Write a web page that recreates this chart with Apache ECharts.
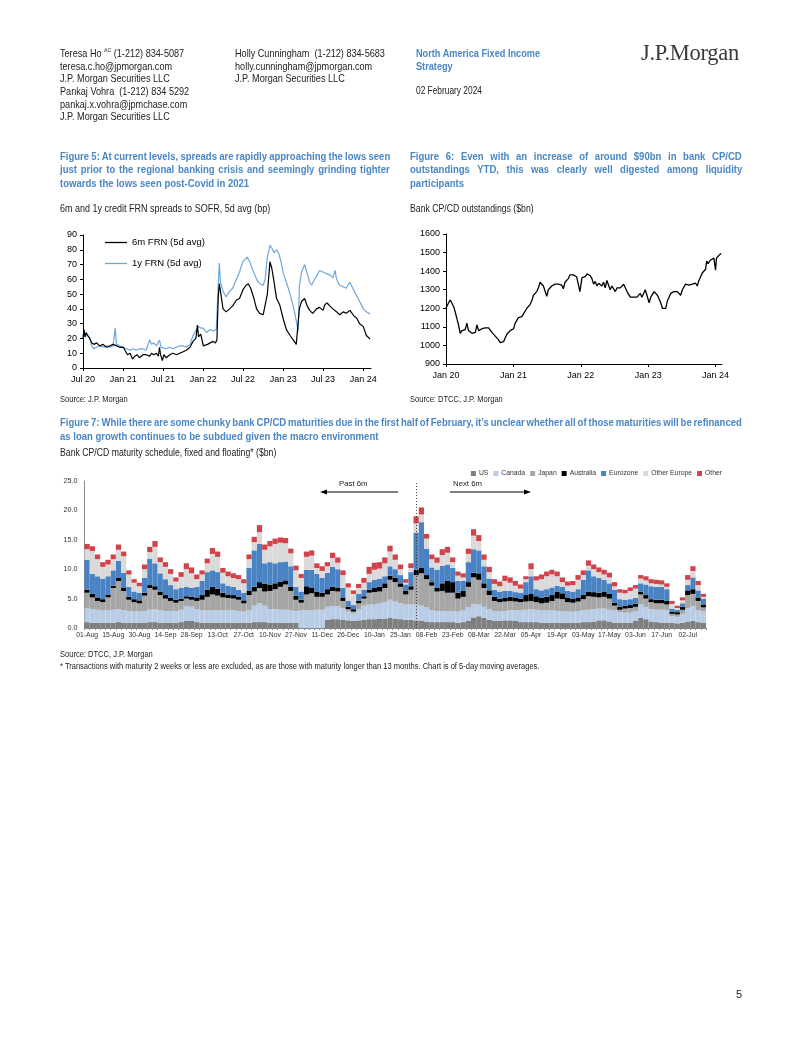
<!DOCTYPE html>
<html><head><meta charset="utf-8">
<script src="https://cdn.jsdelivr.net/npm/echarts@6/dist/echarts.min.js"></script>
<style>
html,body{margin:0;padding:0;background:#fff;}
body{width:802px;height:1037px;position:relative;overflow:hidden;font-family:'Liberation Sans',Arial,sans-serif;color:#222;}
#c{position:absolute;left:0;top:0;width:802px;height:1037px;}
.t{position:absolute;white-space:nowrap;transform:scaleX(0.82);transform-origin:0 0;}
.hd{font-size:10.6px;line-height:12.5px;transform:scaleX(0.86);}
.ttl{font-weight:bold;color:#4a87c5;font-size:10.6px;line-height:13.3px;transform:scaleX(0.9);}
.j{display:inline-block;white-space:nowrap;}
.sub{font-size:10.6px;line-height:12px;}
.src{font-size:9.2px;line-height:11px;}
</style></head>
<body>
<div id="c"></div>
<div class="t hd" style="left:60px;top:47px">Teresa Ho <sup style="font-size:6px;line-height:0">AC</sup> (1-212) 834-5087<br>teresa.c.ho@jpmorgan.com<br>J.P. Morgan Securities LLC</div>
<div class="t hd" style="left:60px;top:85px">Pankaj Vohra&nbsp; (1-212) 834 5292<br>pankaj.x.vohra@jpmchase.com<br>J.P. Morgan Securities LLC</div>
<div class="t hd" style="left:235px;top:47px">Holly Cunningham&nbsp; (1-212) 834-5683<br>holly.cunningham@jpmorgan.com<br>J.P. Morgan Securities LLC</div>
<div class="t hd" style="left:416px;top:47px;color:#4a87c5;font-weight:bold;font-size:11.2px;transform:scaleX(0.82)">North America Fixed Income<br>Strategy</div>
<div class="t" style="left:416px;top:85px;font-size:10.2px;line-height:12.5px">02 February 2024</div>
<div style="position:absolute;left:641px;top:40px;font-family:'Liberation Serif','Times New Roman',serif;font-size:22.5px;color:#3a3a3a;letter-spacing:-0.3px;white-space:nowrap">J.P.Morgan</div>

<div class="t ttl" style="left:60px;top:150px">
<div><span class="j" data-w="330">Figure 5: At current levels, spreads are rapidly approaching the lows seen</span></div>
<div><span class="j" data-w="330">just prior to the regional banking crisis and seemingly grinding tighter</span></div>
<div>towards the lows seen post-Covid in 2021</div>
</div>
<div class="t sub" style="left:60px;top:202px;transform:scaleX(0.85)">6m and 1y credit FRN spreads to SOFR, 5d avg (bp)</div>
<div class="t src" style="left:60px;top:394px">Source: J.P. Morgan</div>

<div class="t ttl" style="left:410px;top:150px">
<div><span class="j" data-w="332">Figure 6: Even with an increase of around $90bn in bank CP/CD</span></div>
<div><span class="j" data-w="332">outstandings YTD, this was clearly well digested among liquidity</span></div>
<div>participants</div>
</div>
<div class="t sub" style="left:410px;top:202px">Bank CP/CD outstandings ($bn)</div>
<div class="t src" style="left:410px;top:394px">Source: DTCC, J.P. Morgan</div>

<div class="t ttl" style="left:60px;top:415px;line-height:14px">
<div><span class="j" data-w="682">Figure 7: While there are some chunky bank CP/CD maturities due in the first half of February, it’s unclear whether all of those maturities will be refinanced</span></div>
<div>as loan growth continues to be subdued given the macro environment</div>
</div>
<div class="t sub" style="left:60px;top:446px">Bank CP/CD maturity schedule, fixed and floating* ($bn)</div>
<div class="t src" style="left:60px;top:649px">Source: DTCC, J.P. Morgan</div>
<div class="t src" style="left:60px;top:661px">* Transactions with maturity 2 weeks or less are excluded, as are those with maturity longer than 13 months. Chart is of 5-day moving averages.</div>
<div class="t" style="left:736px;top:988px;font-size:11px;transform:none">5</div>

<script>
// ---------- Figure 5 data ----------
const fig5Ticks = ['Jul 20','Jan 21','Jul 21','Jan 22','Jul 22','Jan 23','Jul 23','Jan 24'];
const fig5Names = ['6m FRN (5d avg)','1y FRN (5d avg)'];
const fig5SixDates = ['2020-07-01','2020-07-06','2020-07-10','2020-07-15','2020-07-22','2020-08-01','2020-08-10','2020-08-20','2020-09-01','2020-09-15','2020-10-01','2020-10-15','2020-11-01','2020-11-15','2020-12-01','2020-12-15',
'2021-01-01','2021-01-10','2021-01-20','2021-02-01','2021-02-12','2021-02-22','2021-03-05','2021-03-15','2021-04-01','2021-04-15','2021-05-01','2021-05-10','2021-05-20','2021-06-01','2021-06-10','2021-06-15','2021-06-20','2021-06-28','2021-07-05','2021-07-15','2021-08-01','2021-08-15','2021-09-01','2021-09-15','2021-10-01','2021-10-15','2021-11-01','2021-11-15','2021-11-28','2021-12-05','2021-12-10','2021-12-20',
'2022-01-01','2022-01-10','2022-01-20','2022-02-01','2022-02-15','2022-02-25','2022-03-04','2022-03-10','2022-03-15','2022-03-20','2022-04-01','2022-04-15','2022-05-01','2022-05-15','2022-06-01','2022-06-15','2022-07-01','2022-07-15','2022-07-25','2022-08-05','2022-08-20','2022-09-01','2022-09-15','2022-10-01','2022-10-10','2022-10-20','2022-11-01','2022-11-10','2022-11-20','2022-12-01','2022-12-15',
'2023-01-01','2023-01-15','2023-02-01','2023-02-15','2023-03-01','2023-03-10','2023-03-15','2023-03-25','2023-04-08','2023-04-20','2023-05-01','2023-05-15','2023-06-01','2023-06-15','2023-07-01','2023-07-10','2023-07-20','2023-08-01','2023-08-15','2023-09-01','2023-09-15','2023-10-01','2023-10-15','2023-11-01','2023-11-10','2023-11-20','2023-12-01','2023-12-15',
'2024-01-01','2024-01-15','2024-02-01'];
const fig5SixValues = [20,26,21,24,22,20,17,16,17,15,16,14,15,16,15,14,
14,13,9,10,6,8,9,7,9,9,8,10,9,10,8,14,9,5,9,7,9,10,9,10,11,12,14,18,20,29,21,23,
15,14,16,17,18,17,19,48,57,52,40,38,40,42,46,47,53,56,57,54,47,40,37,36,35,50,72,67,58,47,43,
33,26,22,19,16,15.5,40,45,47,42,39,37,40,41,39,43,44,42,40,38,36,38,37,39,38,35,34,30,
28,22,19.5];
const fig5OneDates = ['2020-07-01','2020-07-06','2020-07-12','2020-07-20','2020-08-01','2020-08-10','2020-08-20','2020-09-01','2020-09-15','2020-10-01','2020-10-15','2020-11-01','2020-11-15','2020-11-25','2020-12-01','2020-12-15',
'2021-01-01','2021-01-15','2021-02-01','2021-02-15','2021-03-01','2021-03-15','2021-04-01','2021-04-15','2021-05-01','2021-05-10','2021-05-20','2021-06-01','2021-06-15','2021-06-22','2021-07-01','2021-07-15','2021-08-01','2021-08-15','2021-09-01','2021-09-15','2021-10-01','2021-10-15','2021-11-01','2021-11-15','2021-12-01','2021-12-10','2021-12-20',
'2022-01-01','2022-01-15','2022-02-01','2022-02-15','2022-03-01','2022-03-05','2022-03-12','2022-03-15','2022-03-20','2022-04-01','2022-04-15','2022-05-01','2022-05-15','2022-06-01','2022-06-15','2022-07-01','2022-07-20','2022-08-01','2022-08-15','2022-09-01','2022-09-15','2022-10-01','2022-10-10','2022-10-20','2022-11-01','2022-11-10','2022-11-20','2022-12-01','2022-12-10','2022-12-20',
'2023-01-01','2023-01-15','2023-02-01','2023-02-15','2023-03-01','2023-03-10','2023-03-15','2023-03-25','2023-04-08','2023-04-20','2023-05-01','2023-05-10','2023-05-20','2023-06-01','2023-06-15','2023-07-01','2023-07-15','2023-08-01','2023-08-15','2023-08-25','2023-09-01','2023-09-15','2023-10-01','2023-10-15','2023-11-01','2023-11-10','2023-11-20','2023-12-01','2023-12-15',
'2024-01-01','2024-01-15','2024-02-01'];
const fig5OneValues = [22,25,21,23,20,15,13,14,15,14,15,14,15,27,16,15,
14,13,12,13,12,13,13,12,19,16,17,15,19,14,13,13,14,13,14,15,15,14,16,22,26,28,27,
27,24,26,25,26,26,62,71,58,52,48,52,54,60,65,72,75,72,66,60,57,56,60,75,83,81,78,80,78,73,
64,58,50,42,32,25,55,65,70,64,58,56,59,62,66,65,64,63,61,66,60,56,55,54,58,57,52,49,45,
40,38,36.5];

// ---------- Figure 6 data ----------
const fig6Ticks = ['Jan 20','Jan 21','Jan 22','Jan 23','Jan 24'];
const fig6Dates = ['2020-01-01','2020-01-15','2020-01-24','2020-02-02','2020-02-11','2020-02-20','2020-03-01','2020-03-09','2020-03-18','2020-03-27','2020-04-05','2020-04-14','2020-04-23','2020-05-02','2020-05-12','2020-05-21','2020-05-30','2020-06-08','2020-06-17','2020-06-26','2020-07-05','2020-07-14','2020-07-23','2020-08-01','2020-08-10','2020-08-19','2020-08-28','2020-09-06','2020-09-15','2020-09-24','2020-10-03','2020-10-12','2020-10-21','2020-10-30','2020-11-08','2020-11-17','2020-11-26','2020-12-05','2020-12-14','2020-12-23',
'2021-01-01','2021-01-10','2021-01-19','2021-01-28','2021-02-06','2021-02-15','2021-02-24','2021-03-05','2021-03-14','2021-03-23','2021-04-01','2021-04-10','2021-04-19','2021-04-28','2021-05-07','2021-05-16','2021-05-25','2021-06-03','2021-06-12','2021-06-21','2021-06-30','2021-07-09','2021-07-18','2021-07-27','2021-08-05','2021-08-14','2021-08-23','2021-09-01','2021-09-10','2021-09-19','2021-09-28','2021-10-07','2021-10-16','2021-10-25','2021-11-03','2021-11-12','2021-11-21','2021-11-30','2021-12-09','2021-12-18','2021-12-27',
'2022-01-07','2022-01-16','2022-01-25','2022-02-03','2022-02-12','2022-02-21','2022-03-02','2022-03-11','2022-03-20','2022-03-29','2022-04-07','2022-04-16','2022-04-25','2022-05-04','2022-05-13','2022-05-22','2022-05-31','2022-06-09','2022-06-18','2022-06-27','2022-07-07','2022-07-16','2022-07-25','2022-08-03','2022-08-12','2022-08-21','2022-08-30','2022-09-08','2022-09-17','2022-09-26','2022-10-05','2022-10-14','2022-10-23','2022-11-01','2022-11-10','2022-11-19','2022-11-28','2022-12-07','2022-12-16','2022-12-25',
'2023-01-06','2023-01-15','2023-01-24','2023-02-02','2023-02-11','2023-02-20','2023-03-01','2023-03-10','2023-03-19','2023-03-28','2023-04-06','2023-04-15','2023-04-24','2023-05-03','2023-05-12','2023-05-21','2023-05-30','2023-06-08','2023-06-17','2023-06-26','2023-07-05','2023-07-14','2023-07-23','2023-08-01','2023-08-10','2023-08-19','2023-08-28','2023-09-06','2023-09-15','2023-09-24','2023-10-03','2023-10-12','2023-10-21','2023-10-30','2023-11-08','2023-11-14','2023-11-21','2023-11-26','2023-12-05','2023-12-14','2023-12-23',
'2024-01-01','2024-01-06','2024-01-19','2024-02-01'];
const fig6Values = [1200,1230,1245,1235,1210,1180,1140,1110,1065,1080,1070,1085,1120,1080,1090,1065,1060,1070,1110,1080,1075,1090,1085,1095,1090,1095,1085,1070,1060,1050,1040,1030,1015,1005,1020,1040,1060,1070,1080,1085,
1090,1120,1135,1150,1160,1155,1170,1180,1200,1210,1220,1240,1270,1275,1290,1310,1340,1335,1320,1320,1265,1300,1310,1320,1325,1330,1320,1330,1335,1325,1305,1340,1345,1360,1380,1390,1380,1375,1370,1360,1290,
1365,1375,1370,1385,1385,1375,1360,1330,1345,1320,1335,1330,1320,1340,1310,1350,1340,1300,1320,1310,1290,1310,1300,1310,1320,1330,1310,1290,1280,1260,1250,1260,1270,1260,1270,1280,1260,1280,1300,1270,
1230,1260,1270,1290,1280,1270,1250,1230,1200,1190,1200,1240,1260,1280,1275,1290,1280,1290,1300,1270,1300,1310,1330,1340,1325,1335,1330,1340,1335,1320,1350,1370,1390,1400,1410,1455,1440,1430,1460,1460,1470,
1405,1470,1485,1495];

// ---------- Figure 7 data (2-business-day buckets, $bn) ----------
const fig7TickLabels = ['01-Aug','15-Aug','30-Aug','14-Sep','28-Sep','13-Oct','27-Oct','10-Nov','27-Nov','11-Dec','26-Dec','10-Jan','25-Jan','08-Feb','23-Feb','08-Mar','22-Mar','05-Apr','19-Apr','03-May','17-May','03-Jun','17-Jun','02-Jul'];
const fig7Names = ['US','Canada','Japan','Australia','Eurozone','Other Europe','Other'];
const fig7US = [1.0,0.9,0.9,0.9,0.9,0.9,1.0,0.9,0.9,0.9, 0.9,0.9,1.0,1.0,0.9,0.9,0.9,0.9,1.0,1.2, 1.2,1.0,0.9,0.9,0.9,0.9,0.9,0.9,0.9,0.9,
0.9,0.9,1.0,1.0,1.0,0.9,0.9,0.9,0.9,0.9, 0.9,0,0,0,0,0,1.4,1.5,1.5,1.4, 1.3,1.2,1.3,1.4,1.5,1.5,1.6,1.6,1.7,1.6,
1.5,1.4,1.4,1.3,1.2,1.1,1.0,1.0,1.0,1.0, 1.0,0.9,1.0,1.2,1.8,2.0,1.7,1.4,1.2,1.2, 1.3,1.3,1.2,1.0,1.0,1.0,1.0,0.9,0.9,0.9,
0.9,0.9,0.9,0.9,0.9,1.0,1.0,1.1,1.3,1.3, 1.1,0.9,0.9,0.9,0.9,1.2,1.7,1.5,1.1,1.0, 0.9,0.9,0.9,0.8,0.9,1.1,1.2,1.0,0.9];
const fig7Canada = [2.4,2.3,2.2,2.1,2.1,2.2,2.2,2.1,2.0,1.9, 1.9,2.0,2.1,2.2,2.1,2.0,2.0,2.0,2.1,2.5, 2.4,2.2,2.1,2.1,2.1,2.1,2.1,2.1,2.1,2.0,
1.9,2.1,2.8,3.2,2.8,2.3,2.3,2.2,2.2,2.1, 2.0,3.0,3.0,3.0,3.1,3.1,2.2,2.2,2.2,2.0, 1.5,1.3,1.9,2.4,2.5,2.5,2.6,2.8,3.1,2.9,
2.7,2.6,2.6,2.7,2.6,2.4,2.0,1.9,1.9,1.9, 1.9,1.9,2.0,2.3,2.3,2.0,1.9,1.8,1.7,1.6, 1.6,1.7,1.8,2.0,2.1,2.2,2.1,2.1,2.1,2.1,
2.0,2.0,1.9,1.9,2.0,2.0,2.1,2.1,2.0,2.0, 2.0,2.1,1.8,1.7,1.7,1.7,2.3,2.1,2.1,2.1, 2.2,2.1,1.1,1.1,1.5,2.3,2.5,2.0,1.9];
const fig7Japan = [2.6,2.0,1.5,1.4,2.2,3.7,4.8,3.3,1.9,1.6, 1.4,2.6,3.7,3.3,2.6,2.1,1.7,1.4,1.5,1.3, 1.2,1.4,1.8,2.3,2.7,2.5,2.2,2.1,2.0,1.9,
1.4,2.6,2.4,2.6,2.4,3.1,3.4,3.9,4.3,3.3, 1.9,1.3,2.7,2.9,2.2,2.2,2.1,2.6,2.5,1.2, 0.4,0.3,1.0,1.2,2.0,2.1,2.0,2.4,3.4,3.3,
2.8,1.7,2.5,5.0,5.5,4.8,4.2,3.3,3.4,3.1, 3.1,2.2,2.3,3.5,4.5,4.2,3.2,2.4,1.7,1.6, 1.6,1.6,1.5,1.4,1.4,1.4,1.3,1.2,1.3,1.6,
2.1,2.0,1.6,1.5,1.6,1.9,2.3,2.1,1.9,2.0, 1.9,0.8,0.4,0.7,0.8,0.7,1.7,1.4,1.2,1.1, 1.1,1.0,0.4,0.4,0.7,2.2,2.1,1.6,0.7];
const fig7Australia = [0.5,0.6,0.6,0.5,0.5,0.4,0.5,0.5,0.5,0.5, 0.5,0.5,0.5,0.6,0.6,0.6,0.5,0.5,0.4,0.4, 0.5,0.6,0.8,1.2,1.3,1.2,0.8,0.6,0.6,0.5,
0.5,0.7,0.8,1.0,1.3,1.1,1.0,0.9,0.7,0.7, 0.7,0.5,1.4,1.0,0.9,0.7,0.9,0.7,0.7,0.6, 0.4,0.4,0.4,0.4,0.5,0.7,0.8,0.8,0.7,0.7,
0.6,0.6,0.6,0.9,0.9,0.7,0.6,0.6,1.3,2.0, 1.8,1.0,1.0,0.8,0.8,1.1,0.8,0.8,0.7,0.6, 0.6,0.7,0.7,0.6,1.1,1.2,1.0,0.9,1.0,1.0,
1.2,1.0,0.8,0.7,0.7,0.7,0.8,0.8,0.8,0.9, 0.8,0.5,0.5,0.5,0.5,0.5,0.5,0.6,0.5,0.6, 0.6,0.6,0.4,0.4,0.5,0.8,0.8,0.6,0.5];
const fig7Eurozone = [5.1,3.4,3.6,3.5,3.1,2.6,2.9,2.6,1.7,1.3, 1.3,2.5,4.5,3.9,3.1,2.7,2.2,1.8,1.8,1.6, 1.5,1.8,2.4,3.0,2.8,2.8,1.6,1.5,1.4,1.2,
1.3,3.9,6.2,6.5,3.5,3.8,3.4,3.3,3.2,3.5, 1.5,1.4,2.8,3.0,3.0,2.5,2.8,3.4,3.1,1.6, 1.0,0.7,1.2,1.1,1.3,1.4,1.4,1.2,1.6,1.5,
1.4,1.1,2.4,6.3,7.8,4.5,2.5,3.1,3.0,2.8, 2.4,2.0,1.7,3.4,4.0,3.9,2.9,2.0,1.2,1.2, 1.2,1.0,0.9,1.0,2.2,3.0,1.2,1.3,1.3,1.3,
1.0,1.1,1.1,1.2,1.4,2.6,3.6,2.7,2.5,2.0, 1.8,2.2,1.3,1.0,1.0,1.0,1.4,1.8,2.2,2.2, 2.2,2.0,0.5,0.4,0.6,0.9,2.0,1.2,1.0];
const fig7OtherEurope = [1.8,3.9,2.9,2.0,2.0,1.9,1.9,2.8,2.1,1.5, 1.1,1.5,1.1,2.8,1.9,2.1,1.9,1.3,1.9,3.0, 2.5,1.3,1.1,1.5,2.8,2.6,1.8,1.6,1.5,1.8,
1.6,1.5,1.4,2.0,2.3,2.7,3.3,3.3,3.1,2.2, 2.8,2.3,2.2,2.4,1.0,1.2,1.1,1.5,1.1,2.2, 2.3,1.9,1.0,1.2,1.4,1.7,1.7,2.2,2.5,1.6,
1.0,0.3,0.7,1.6,1.3,1.7,1.4,1.2,1.8,2.0, 1.0,0.9,0.6,1.4,2.3,1.6,1.1,1.1,1.0,0.9, 1.7,1.4,1.1,0.7,0.5,1.2,1.5,1.9,2.2,2.2,
1.6,0.8,0.9,1.1,1.6,0.8,0.8,1.2,1.0,0.9, 1.0,0.6,1.1,1.1,1.4,1.6,0.8,0.7,0.5,0.5, 0.4,0.4,0.8,0.3,0.5,0.9,1.1,0.9,0.3];
const fig7Other = [0.9,0.8,0.8,0.8,0.8,0.8,0.9,0.8,0.7,0.6, 0.6,0.8,0.9,1.0,0.8,0.8,0.8,0.7,0.8,1.0, 1.0,0.8,0.7,0.8,1.0,0.9,0.8,0.8,0.8,0.7,
0.7,0.8,0.9,1.2,0.9,0.9,0.9,0.9,0.9,0.8, 0.8,0.7,0.9,0.9,0.8,0.8,0.7,0.9,0.9,0.8, 0.7,0.6,0.7,0.8,1.2,1.2,1.1,1.0,1.0,0.9,
0.8,0.6,0.8,1.2,1.2,0.8,0.8,0.9,1.0,1.0, 0.8,0.7,0.7,0.9,1.1,1.0,0.9,0.9,0.8,0.8, 0.9,0.9,0.8,0.7,0.5,1.0,0.7,0.8,0.8,0.8,
0.8,0.8,0.7,0.7,0.8,0.8,0.9,0.8,0.8,0.8, 0.8,0.7,0.6,0.6,0.6,0.6,0.6,0.7,0.7,0.7, 0.7,0.6,0.5,0.4,0.5,0.8,0.8,0.7,0.5];
const fig7Split = 63; // bucket where the "today" dotted line sits (02-Feb)

// ---------- helpers ----------
const MON = {Jan:0,Feb:1,Mar:2,Apr:3,May:4,Jun:5,Jul:6,Aug:7,Sep:8,Oct:9,Nov:10,Dec:11};
const ts = s => { const p = s.split('-'); return Date.UTC(+p[0], +p[1]-1, +p[2]); };
const tickTs = s => { const p = s.split(' '); return Date.UTC(2000 + +p[1], MON[p[0]], 1); };
const pairs = (d, v) => d.map((x, i) => [ts(x), v[i]]);
const tickFmt = ticks => { const m = {}; ticks.forEach(t => m[tickTs(t)] = t); return v => m[v] || ''; };

const FONT = "'Liberation Sans',Arial,sans-serif";
const AX = '#000';

const fig7Cats = fig7US.map((_, i) => String(i));
const fig7Colors = ['#7f7f7f','#b9cde6','#a6a6a6','#000000','#4a83c4','#dadada','#d2424b'];
const fig7Data = [fig7US, fig7Canada, fig7Japan, fig7Australia, fig7Eurozone, fig7OtherEurope, fig7Other];

const chart = echarts.init(document.getElementById('c'), null, {renderer: 'canvas', width: 802, height: 1037});

const timeX = (gi, minS, maxS, ticks) => ({
  gridIndex: gi, type: 'value', min: ts(minS), max: ts(maxS), scale: false,
  splitLine: {show: false},
  axisLine: {show: true, onZero: false, lineStyle: {color: AX, width: 1}},
  axisTick: {show: true, customValues: ticks.map(tickTs), length: 3, inside: false, lineStyle: {color: AX}},
  axisLabel: {show: true, customValues: ticks.map(tickTs), formatter: tickFmt(ticks), fontSize: 9, color: '#000', margin: 7, fontFamily: FONT, showMinLabel: true, showMaxLabel: true}
});
const valY = (gi, min, max, step) => ({
  gridIndex: gi, type: 'value', min: min, max: max, interval: step,
  splitLine: {show: false},
  axisLine: {show: true, lineStyle: {color: AX, width: 1}},
  axisTick: {show: true, length: 3, lineStyle: {color: AX}},
  axisLabel: {fontSize: 9, color: '#000', margin: 6, fontFamily: FONT, formatter: v => String(v)}
});

const series = [
  {name: fig5Names[0], type: 'line', xAxisIndex: 0, yAxisIndex: 0, data: pairs(fig5SixDates, fig5SixValues), symbol: 'none', lineStyle: {color: '#000', width: 1.2}, itemStyle: {color: '#000'}, z: 3},
  {name: fig5Names[1], type: 'line', xAxisIndex: 0, yAxisIndex: 0, data: pairs(fig5OneDates, fig5OneValues), symbol: 'none', lineStyle: {color: '#6ea7dc', width: 1.2}, itemStyle: {color: '#6ea7dc'}, z: 2},
  {name: 'Bank CP/CD outstandings', type: 'line', xAxisIndex: 1, yAxisIndex: 1, data: pairs(fig6Dates, fig6Values), symbol: 'none', lineStyle: {color: '#000', width: 1.3}, itemStyle: {color: '#000'}}
];
fig7Names.forEach((n, k) => {
  const s = {name: n, type: 'bar', stack: 'mat', xAxisIndex: 2, yAxisIndex: 2, data: fig7Data[k], barCategoryGap: '0%', barGap: '0%', itemStyle: {color: fig7Colors[k]}, emphasis: {disabled: true}};
  if (k === 0) s.markLine = {silent: true, symbol: 'none', label: {show: false}, lineStyle: {color: '#444', type: [1, 2], width: 1}, data: [{xAxis: fig7Cats[fig7Split]}]};
  series.push(s);
});

const option = {
  animation: false,
  backgroundColor: 'transparent',
  textStyle: {fontFamily: FONT},
  grid: [
    {left: 83, top: 235, width: 288, height: 133, outerBoundsMode: 'none'},
    {left: 446, top: 234, width: 276, height: 130, outerBoundsMode: 'none'},
    {left: 84.5, top: 481, width: 621.5, height: 147, outerBoundsMode: 'none'}
  ],
  legend: [
    {data: fig5Names, orient: 'vertical', left: 100, top: 232, icon: 'rect', itemWidth: 22, itemHeight: 1.3, itemGap: 10, textStyle: {fontSize: 9.5, color: '#000', fontFamily: FONT, lineHeight: 11}, selectedMode: false},
    {data: fig7Names, orient: 'horizontal', right: 75, top: 465, itemWidth: 5, itemHeight: 5, itemGap: 5, icon: 'rect', textStyle: {fontSize: 6.8, color: '#333', fontFamily: FONT, padding: [0, 0, 0, -2]}, selectedMode: false}
  ],
  xAxis: [
    timeX(0, '2020-07-01', '2024-02-05', fig5Ticks),
    timeX(1, '2020-01-01', '2024-02-05', fig6Ticks),
    {gridIndex: 2, type: 'category', data: fig7Cats, boundaryGap: true,
     axisLine: {lineStyle: {color: '#888'}},
     axisTick: {show: true, interval: 0, length: 2, lineStyle: {color: '#888'}},
     axisLabel: {interval: 4, formatter: (v, i) => fig7TickLabels[Math.round(+v / 5)] || '', fontSize: 6.8, color: '#333', margin: 4, fontFamily: FONT},
     splitLine: {show: false}}
  ],
  yAxis: [
    valY(0, 0, 90, 10),
    valY(1, 900, 1600, 100),
    {gridIndex: 2, type: 'value', min: 0, max: 25, interval: 5, splitLine: {show: false},
     axisLine: {show: true, lineStyle: {color: '#888'}}, axisTick: {show: false},
     axisLabel: {formatter: v => v.toFixed(1), fontSize: 7.2, color: '#333', margin: 7, fontFamily: FONT}}
  ],
  graphic: [
    {type: 'text', left: 339, top: 480, style: {text: 'Past 6m', fontSize: 7.8, fill: '#222', fontFamily: FONT}},
    {type: 'line', shape: {x1: 398, y1: 492, x2: 325, y2: 492}, style: {stroke: '#000', lineWidth: 1}},
    {type: 'polygon', shape: {points: [[320, 492], [327, 489.5], [327, 494.5]]}, style: {fill: '#000'}},
    {type: 'text', left: 453, top: 480, style: {text: 'Next 6m', fontSize: 7.8, fill: '#222', fontFamily: FONT}},
    {type: 'line', shape: {x1: 450, y1: 492, x2: 526, y2: 492}, style: {stroke: '#000', lineWidth: 1}},
    {type: 'polygon', shape: {points: [[531, 492], [524, 489.5], [524, 494.5]]}, style: {fill: '#000'}}
  ],
  series: series
};
chart.setOption(option);

// justify title lines to exact widths (widths in on-screen px; title blocks are scaled 0.9)
document.querySelectorAll('.j').forEach(el => {
  const W = parseFloat(el.dataset.w) / 0.9;
  const nat = el.offsetWidth;
  const spaces = (el.textContent.match(/ /g) || []).length;
  if (spaces) el.style.wordSpacing = ((W - nat) / spaces) + 'px';
});
</script>
</body></html>
